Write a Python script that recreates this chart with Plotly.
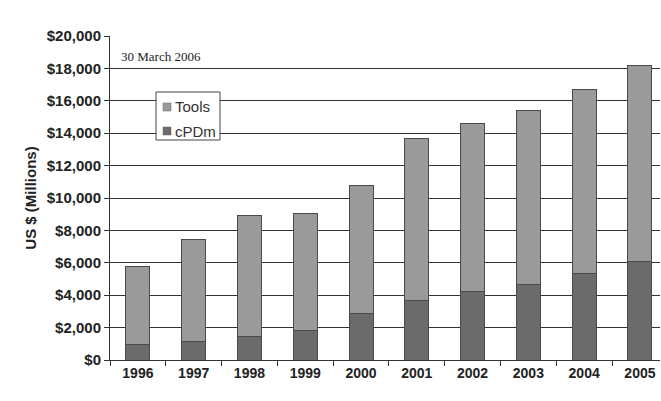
import plotly.graph_objects as go

years = ["1996", "1997", "1998", "1999", "2000", "2001", "2002", "2003", "2004", "2005"]
cpdm = [950, 1150, 1450, 1800, 2900, 3650, 4250, 4650, 5350, 6100]
tools = [4800, 6300, 7500, 7250, 7850, 10000, 10350, 10750, 11350, 12050]
y_ticks = [0, 2000, 4000, 6000, 8000, 10000, 12000, 14000, 16000, 18000, 20000]
y_tick_labels = ["$0", "$2,000", "$4,000", "$6,000", "$8,000", "$10,000", "$12,000",
                 "$14,000", "$16,000", "$18,000", "$20,000"]
series_names = ["Tools", "cPDm"]
series_colors = ["#9a9a9a", "#6b6b6b"]

fig = go.Figure()
fig.add_trace(go.Bar(x=years, y=cpdm, name=series_names[1],
                     marker=dict(color=series_colors[1], line=dict(color="#4a4a4a", width=1))))
fig.add_trace(go.Bar(x=years, y=tools, name=series_names[0],
                     marker=dict(color=series_colors[0], line=dict(color="#4a4a4a", width=1))))

ML, MR, MT, MB = 110, 1, 36, 41
W, H = 661, 401
PW, PH = W - ML - MR, H - MT - MB

fig.update_layout(
    barmode="stack",
    bargap=0.57,
    width=W, height=H,
    margin=dict(l=ML, r=MR, t=MT, b=MB),
    paper_bgcolor="white",
    plot_bgcolor="white",
    font=dict(family="Liberation Sans, Arial, sans-serif", color="#222222"),
    showlegend=False,
    xaxis=dict(
        type="category",
        range=[-0.5, 9.36],
        showline=True, linecolor="#333333", linewidth=1,
        ticks="outside", tickson="boundaries", ticklen=5, tickcolor="#333333",
        tickfont=dict(size=14, color="#222222"),
        showgrid=False,
    ),
    yaxis=dict(
        range=[0, 20000],
        tickvals=y_ticks, ticktext=["<b>%s</b>" % t for t in y_tick_labels],
        showline=True, linecolor="#333333", linewidth=1,
        ticks="outside", ticklen=5, tickcolor="#333333",
        showgrid=True, gridcolor="#333333", gridwidth=1.2,
        tickfont=dict(size=15, color="#222222"),
        title=dict(text="<b>US $ (Millions)</b>", font=dict(size=15, color="#222222"), standoff=6),
        zeroline=False,
    ),
)
fig.update_xaxes(ticktext=["<b>%s</b>" % y for y in years], tickvals=years)

# positions in pixels converted to plot-area fractions
def px(x):
    return (x - ML) / PW
def py(y):
    return (H - MB - y) / PH

fig.add_shape(type="rect", xref="paper", yref="paper",
              x0=px(156), x1=px(220), y0=py(140), y1=py(92),
              fillcolor="white", line=dict(color="#444444", width=1), layer="above")
for i, (name, col) in enumerate(zip(series_names, series_colors)):
    cy = 107 + i * 24
    fig.add_shape(type="rect", xref="paper", yref="paper",
                  x0=px(163), x1=px(171), y0=py(cy + 4), y1=py(cy - 4),
                  fillcolor=col, line=dict(color="#666666", width=0.5), layer="above")
    fig.add_annotation(text=name, xref="paper", yref="paper",
                       x=px(173), y=py(cy), xanchor="left", yanchor="middle",
                       showarrow=False, font=dict(size=15, color="#333333"))

fig.add_annotation(
    text="30 March 2006", xref="paper", yref="paper",
    x=px(119), y=py(56), xanchor="left", yanchor="middle", showarrow=False,
    font=dict(family="Liberation Serif, Times New Roman, serif", size=13, color="#222222"),
)

fig.write_html("out.html")
